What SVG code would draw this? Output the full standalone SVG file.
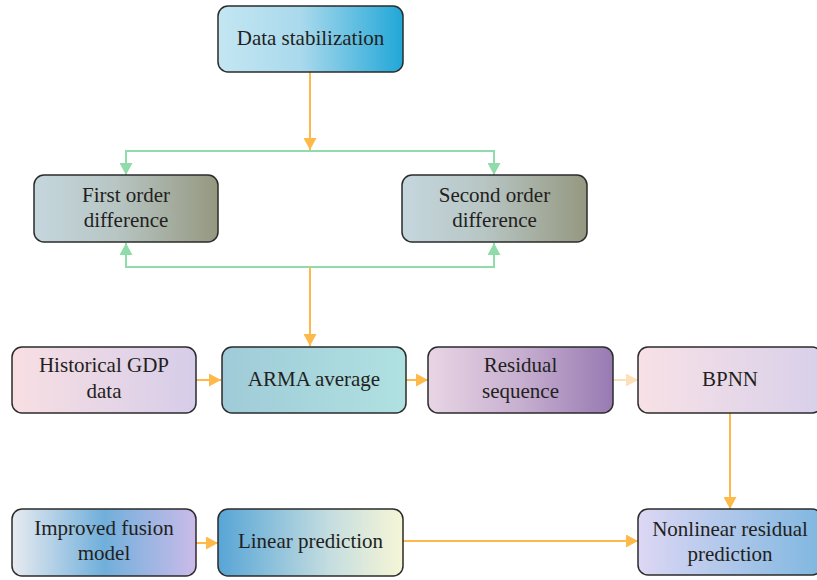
<svg xmlns="http://www.w3.org/2000/svg" width="817" height="580" viewBox="0 0 817 580">
<style>
.box{stroke:#2b2b2b;stroke-width:1.5}
.t{font-family:"Liberation Serif","DejaVu Serif",serif;font-size:21px;fill:#231f20;text-anchor:middle}
.o{stroke:#fdb94a;stroke-width:2;fill:none}
.g{stroke:#8fdcaa;stroke-width:2;fill:none}
.lo{stroke:#fde0b8;stroke-width:2;fill:none}
</style>
<defs>
<marker id="ao" markerUnits="userSpaceOnUse" markerWidth="12" markerHeight="13" refX="12" refY="6.5" orient="auto"><path d="M0,0 L12,6.5 L0,13z" fill="#fdb94a"/></marker>
<marker id="ag" markerUnits="userSpaceOnUse" markerWidth="12" markerHeight="13" refX="12" refY="6.5" orient="auto"><path d="M0,0 L12,6.5 L0,13z" fill="#8fdcaa"/></marker>
<marker id="alo" markerUnits="userSpaceOnUse" markerWidth="12" markerHeight="13" refX="12" refY="6.5" orient="auto"><path d="M0,0 L12,6.5 L0,13z" fill="#fde0b8"/></marker>
<linearGradient id="gDS"><stop offset="0" stop-color="#c4e6f2"/><stop offset="0.45" stop-color="#a9d9ec"/><stop offset="1" stop-color="#21a7d8"/></linearGradient>
<linearGradient id="gDiff"><stop offset="0" stop-color="#c5d7de"/><stop offset="0.45" stop-color="#b7c5c3"/><stop offset="1" stop-color="#959880"/></linearGradient>
<linearGradient id="gHist"><stop offset="0" stop-color="#f8dfe3"/><stop offset="1" stop-color="#d6cde9"/></linearGradient>
<linearGradient id="gARMA"><stop offset="0" stop-color="#9fcbd8"/><stop offset="1" stop-color="#b0e1e1"/></linearGradient>
<linearGradient id="gRes"><stop offset="0" stop-color="#e8d5e4"/><stop offset="0.5" stop-color="#c7afd0"/><stop offset="1" stop-color="#987ab2"/></linearGradient>
<linearGradient id="gBP"><stop offset="0" stop-color="#f8e1e6"/><stop offset="1" stop-color="#d8d0ea"/></linearGradient>
<linearGradient id="gImp"><stop offset="0" stop-color="#e8ebf0"/><stop offset="0.5" stop-color="#70afdb"/><stop offset="1" stop-color="#cbbbe9"/></linearGradient>
<linearGradient id="gLin"><stop offset="0" stop-color="#57a5d6"/><stop offset="0.6" stop-color="#c4dde0"/><stop offset="1" stop-color="#f7f6d6"/></linearGradient>
<linearGradient id="gNon"><stop offset="0" stop-color="#ddd7f4"/><stop offset="1" stop-color="#7fb7e0"/></linearGradient>
</defs>
<g id="connectors">
<path class="o" d="M310,72 V150" marker-end="url(#ao)"/>
<path class="g" d="M310,151 H126 V175" marker-end="url(#ag)"/>
<path class="g" d="M310,151 H494 V175" marker-end="url(#ag)"/>
<path class="g" d="M310,267 H126 V243" marker-end="url(#ag)"/>
<path class="g" d="M310,267 H494 V243" marker-end="url(#ag)"/>
<path class="o" d="M310,267 V346" marker-end="url(#ao)"/>
<path class="o" d="M196,380 H221" marker-end="url(#ao)"/>
<path class="o" d="M406,380 H428" marker-end="url(#ao)"/>
<path class="lo" d="M613,380 H638" marker-end="url(#alo)"/>
<path class="o" d="M730,413 V509" marker-end="url(#ao)"/>
<path class="o" d="M196,543 H218" marker-end="url(#ao)"/>
<path class="o" d="M403,541 H638" marker-end="url(#ao)"/>
</g>
<g id="n-data-stab"><rect class="box" x="218" y="6" width="185" height="66" rx="10" fill="url(#gDS)"/><text class="t" x="310.5" y="45">Data stabilization</text></g>
<g id="n-first"><rect class="box" x="34" y="175" width="184" height="67" rx="10" fill="url(#gDiff)"/><text class="t" x="126" y="202">First order</text><text class="t" x="126" y="227">difference</text></g>
<g id="n-second"><rect class="box" x="402" y="175" width="185" height="67" rx="10" fill="url(#gDiff)"/><text class="t" x="494.5" y="202">Second order</text><text class="t" x="494.5" y="227">difference</text></g>
<g id="n-hist"><rect class="box" x="12" y="347" width="184" height="66" rx="10" fill="url(#gHist)"/><text class="t" x="104" y="372">Historical GDP</text><text class="t" x="104" y="398">data</text></g>
<g id="n-arma"><rect class="box" x="222" y="347" width="184" height="66" rx="10" fill="url(#gARMA)"/><text class="t" x="314" y="386">ARMA average</text></g>
<g id="n-res"><rect class="box" x="428" y="347" width="185" height="66" rx="10" fill="url(#gRes)"/><text class="t" x="520.5" y="372">Residual</text><text class="t" x="520.5" y="398">sequence</text></g>
<g id="n-bpnn"><rect class="box" x="638" y="347" width="184" height="66" rx="10" fill="url(#gBP)"/><text class="t" x="730" y="386">BPNN</text></g>
<g id="n-improved"><rect class="box" x="12" y="509" width="184" height="67" rx="10" fill="url(#gImp)"/><text class="t" x="104" y="535">Improved fusion</text><text class="t" x="104" y="560">model</text></g>
<g id="n-linear"><rect class="box" x="218" y="509" width="185" height="67" rx="10" fill="url(#gLin)"/><text class="t" x="310.5" y="548">Linear prediction</text></g>
<g id="n-nonlinear"><rect class="box" x="638" y="509" width="184" height="66" rx="10" fill="url(#gNon)"/><text class="t" x="730" y="536">Nonlinear residual</text><text class="t" x="730" y="561">prediction</text></g>
</svg>
